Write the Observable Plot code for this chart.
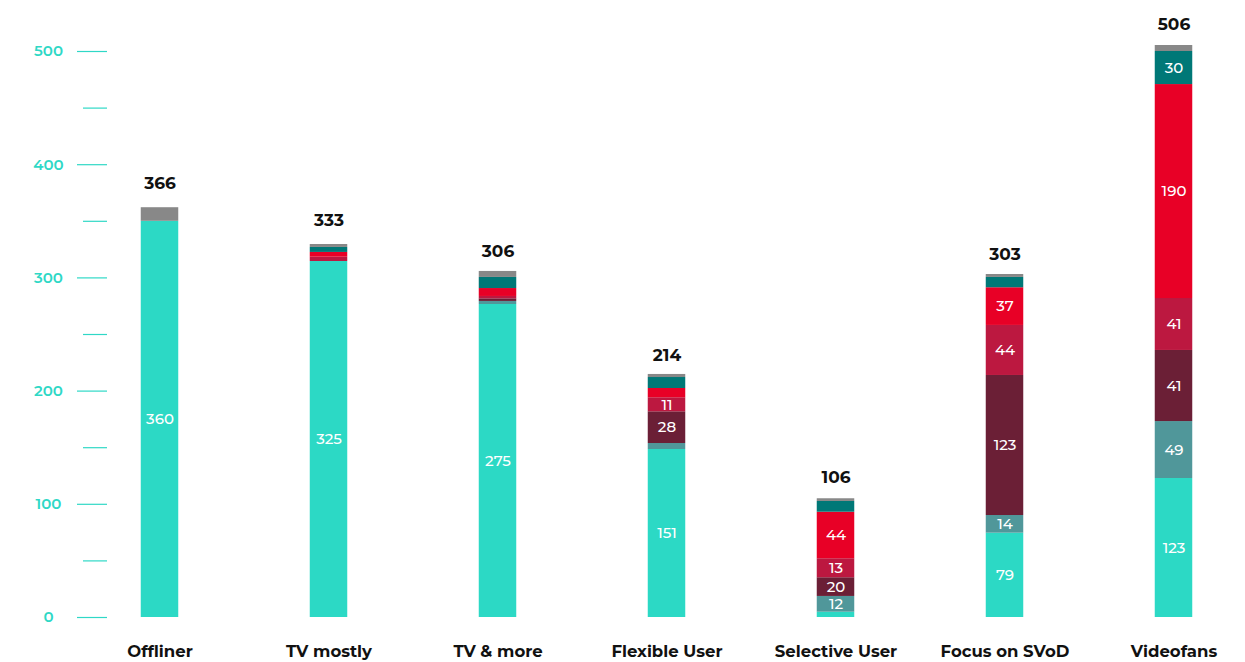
<!DOCTYPE html>
<html>
<head>
<meta charset="utf-8">
<script src="https://cdn.jsdelivr.net/npm/d3@7"></script>
<script src="https://cdn.jsdelivr.net/npm/@observablehq/plot@0.6"></script>
<style>
  html, body { margin: 0; padding: 0; background: #fff; }
  #chart svg { display: block; }
</style>
</head>
<body>
<div id="chart"></div>
<script>
const categories = ["Offliner", "TV mostly", "TV & more", "Flexible User", "Selective User", "Focus on SVoD", "Videofans"];
const totals = [366, 333, 306, 214, 106, 303, 506];

const seriesNames = ["s1", "s2", "s3", "s4", "s5", "s6", "s7"];
const seriesColors = ["#2cd9c5", "#50979a", "#6b1f36", "#bc1840", "#e80026", "#007877", "#888888"];

// segment heights as drawn (bottom to top)
const s1 = [350, 314.5, 276.5, 148.4, 4.7, 74.5, 122.8];
const s2 = [0, 0, 2.7, 5.3, 13.9, 15.6, 50.3];
const s3 = [0, 0, 2.3, 28, 16.5, 123.7, 62.8];
const s4 = [0, 3.8, 2.1, 12.4, 16.8, 44.2, 45.9];
const s5 = [0, 4.2, 7, 8.2, 41.1, 33.3, 189];
const s6 = [0, 4.4, 9.8, 9.7, 9.5, 9.1, 29.2];
const s7 = [12, 2.6, 5.3, 2.7, 2.4, 2.6, 5.3];

// printed labels inside segments
const l1 = ["360", "325", "275", "151", "", "79", "123"];
const l2 = ["", "", "", "", "12", "14", "49"];
const l3 = ["", "", "", "28", "20", "123", "41"];
const l4 = ["", "", "", "11", "13", "44", "41"];
const l5 = ["", "", "", "", "44", "37", "190"];
const l6 = ["", "", "", "", "", "", "30"];
const l7 = ["", "", "", "", "", "", ""];

const majorTicks = [0, 100, 200, 300, 400, 500];
const minorTicks = [50, 150, 250, 350, 450];

const values = [s1, s2, s3, s4, s5, s6, s7];
const labels = [l1, l2, l3, l4, l5, l6, l7];

const data = [];
categories.forEach((c, i) => {
  seriesNames.forEach((s, k) => {
    data.push({cat: c, series: s, value: values[k][i], label: labels[k][i]});
  });
});
const totalsData = categories.map((c, i) => ({cat: c, total: totals[i]}));

const font = "Montserrat, Inter, 'Open Sans', sans-serif";
const axisColor = "#2fd8c6";

const chart = Plot.plot({
  width: 1245,
  height: 662,
  marginLeft: 107,
  marginRight: 0,
  marginTop: 0,
  marginBottom: 45,
  style: {fontFamily: font, background: "#fff"},
  x: {domain: categories, range: [73.05, 1259.55], padding: 0, axis: null},
  y: {domain: [0, 500], range: [617, 51], axis: null},
  color: {domain: seriesNames, range: seriesColors},
  marks: [
    Plot.axisY({ticks: majorTicks, tickSize: 30, tickFormat: () => "", stroke: axisColor, strokeWidth: 1.2}),
    Plot.axisY({ticks: minorTicks, tickSize: 24, tickFormat: () => "", stroke: axisColor, strokeWidth: 1.2}),
    Plot.text(majorTicks, {y: d => d, text: d => String(d), frameAnchor: "left", dx: -59, textAnchor: "middle",
      fill: axisColor, fontSize: 15, fontWeight: 600}),
    Plot.barY(data, {x: "cat", y: "value", fill: "series", z: "series", insetLeft: 65.75, insetRight: 65.75}),
    Plot.text(data, Plot.stackY({x: "cat", y: "value", z: "series", text: "label",
      fill: "#fff", fontSize: 15, fontWeight: 500})),
    Plot.text(totalsData, {x: "cat", y: "total", text: d => String(d.total), dy: -20, fill: "#111", fontSize: 17, fontWeight: 700}),
    Plot.text(categories, {x: d => d, y: () => 0, text: d => d, dy: 34, fill: "#111", fontSize: 16.5, fontWeight: 700})
  ]
});
document.getElementById("chart").appendChild(chart);
</script>
</body>
</html>
